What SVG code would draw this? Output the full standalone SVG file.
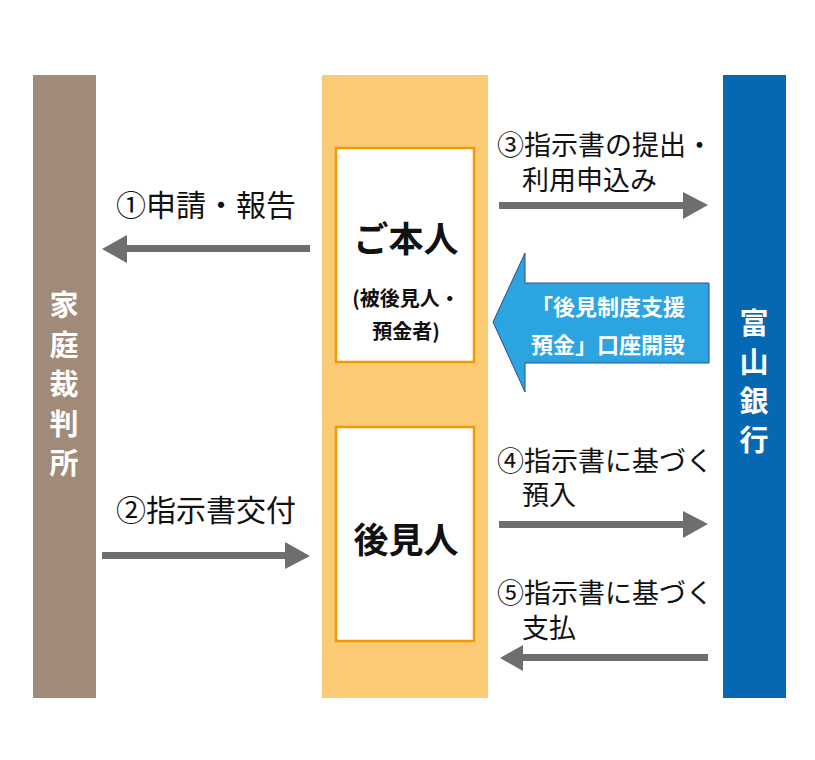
<svg xmlns="http://www.w3.org/2000/svg" width="815" height="760" viewBox="0 0 815 760">
<style>
.lbl{font-family:"Noto Sans CJK JP","Noto Sans",sans-serif;font-size:27px;fill:#111}
.big{font-size:30px}
.vt{font-family:"Noto Sans CJK JP",sans-serif;font-size:29px;font-weight:bold;fill:#fff;text-anchor:middle}
.bx{fill:#fff;stroke:#F39800;stroke-width:2.5}
.nm{font-family:"Noto Sans CJK JP",sans-serif;font-size:35px;font-weight:bold;fill:#111;text-anchor:middle}
.sub{font-family:"Noto Sans CJK JP",sans-serif;font-size:20px;font-weight:bold;fill:#111;text-anchor:middle}
.bt{font-family:"Noto Sans CJK JP",sans-serif;font-size:22px;font-weight:bold;fill:#fff}
.ar{fill:#6E6E6E}
</style>
<rect width="815" height="760" fill="#fff"/>
<g id="court">
<rect x="33" y="75" width="63" height="623" fill="#A28A78"/>
<text class="vt" x="64" y="316">家</text>
<text class="vt" x="64" y="356">庭</text>
<text class="vt" x="64" y="395">裁</text>
<text class="vt" x="64" y="435">判</text>
<text class="vt" x="64" y="474">所</text>
</g>
<g id="person-column">
<rect x="322" y="75" width="166" height="623" fill="#FACB74"/>
</g>
<g id="honnin">
<rect class="bx" x="336" y="148" width="138" height="214"/>
<text class="nm" x="406" y="252">ご本人</text>
<text class="sub" x="406" y="306">(被後見人・</text>
<text class="sub" x="406" y="339">預金者)</text>
</g>
<g id="kokennin">
<rect class="bx" x="336" y="427" width="138" height="214"/>
<text class="nm" x="406" y="553">後見人</text>
</g>
<g id="bank">
<rect x="723" y="75" width="63" height="623" fill="#0568B3"/>
<text class="vt" x="754" y="334">富</text>
<text class="vt" x="754" y="373">山</text>
<text class="vt" x="754" y="412">銀</text>
<text class="vt" x="754" y="451">行</text>
</g>
<g id="connectors">
<rect class="ar" x="126" y="245" width="184" height="7"/>
<polygon class="ar" points="102,249 127,235 127,263"/>
<rect class="ar" x="102" y="552" width="184" height="7"/>
<polygon class="ar" points="310,556 285,542 285,569"/>
<rect class="ar" x="499" y="202" width="185" height="7"/>
<polygon class="ar" points="708,205 683,192 683,219"/>
<rect class="ar" x="499" y="521" width="185" height="7"/>
<polygon class="ar" points="708,524 683,511 683,538"/>
<rect class="ar" x="522" y="654" width="186" height="7"/>
<polygon class="ar" points="500,658 523,645 523,671"/>
<polygon points="493,322 525,253 525,283 709,283 709,363 525,363 525,392" fill="#2CA4DF" stroke="#2E4A98" stroke-width="1"/>
</g>
<g id="labels">
<text class="lbl big" x="116" y="216">①申請・報告</text>
<text class="lbl big" x="116" y="521">②指示書交付</text>
<text class="lbl" x="497" y="155">③指示書の提出・</text>
<text class="lbl" x="522" y="190">利用申込み</text>
<text class="lbl" x="497" y="471">④指示書に基づく</text>
<text class="lbl" x="522" y="505">預入</text>
<text class="lbl" x="497" y="603">⑤指示書に基づく</text>
<text class="lbl" x="522" y="638">支払</text>
<text class="bt" x="531" y="315">「後見制度支援</text>
<text class="bt" x="531" y="353">預金」口座開設</text>
</g>
</svg>
